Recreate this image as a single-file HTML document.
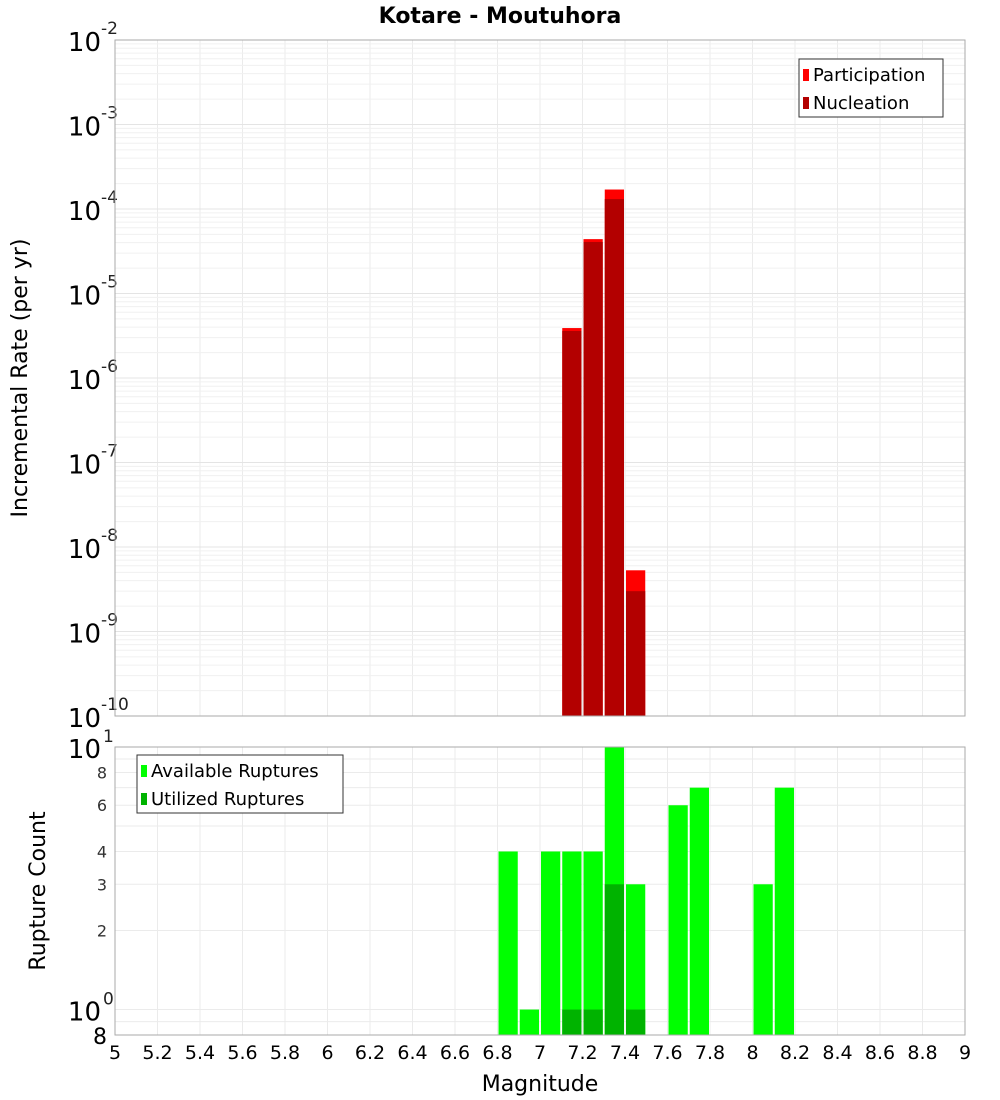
<!DOCTYPE html>
<html><head><meta charset="utf-8"><style>
body{margin:0;background:#fff;}
svg{display:block;font-family:"DejaVu Sans","Liberation Sans",sans-serif;}
</style></head><body>
<svg id="chart" width="1000" height="1100">
<text x="500" y="23" text-anchor="middle" font-size="22" font-weight="bold">Kotare - Moutuhora</text>
<g id="topPlot"></g>
<g id="botPlot"></g>
<text transform="translate(27,378) rotate(-90)" text-anchor="middle" font-size="22">Incremental Rate (per yr)</text>
<text transform="translate(45,891) rotate(-90)" text-anchor="middle" font-size="22">Rupture Count</text>
<text x="540" y="1091" text-anchor="middle" font-size="22">Magnitude</text>
</svg>
<script>
const binStarts=[7.1,7.2,7.3,7.4];
const participation=[3.9e-6,4.4e-5,1.7e-4,5.3e-9];
const nucleation=[3.6e-6,4.07e-5,1.31e-4,3.0e-9];
const countBins=[6.8,6.9,7.0,7.1,7.2,7.3,7.4,7.6,7.7,8.0,8.1];
const available=[4,1,4,4,4,10,3,6,7,3,7];
const utilized=[0,0,0,1,1,3,1,0,0,0,0];
const xTicks=[5,5.2,5.4,5.6,5.8,6,6.2,6.4,6.6,6.8,7,7.2,7.4,7.6,7.8,8,8.2,8.4,8.6,8.8,9];
const countTicks=[2,3,4,6,8];

const NS='http://www.w3.org/2000/svg';
const L=115,R=965,T1=40,B1=716,T2=747,B2=1035;
const xs=m=>L+(m-5)/4*(R-L);
const y1=v=>B1-(Math.log10(v)+10)/8*(B1-T1);
const lo=Math.log10(0.8);
const y2=v=>B2-(Math.log10(v)-lo)/(1-lo)*(B2-T2);
function mk(p,tag,a,txt){const e=document.createElementNS(NS,tag);for(const k in a)e.setAttribute(k,a[k]);if(txt!==undefined)e.textContent=txt;p.appendChild(e);return e;}
const topG=document.getElementById('topPlot'),botG=document.getElementById('botPlot');
mk(topG,'rect',{x:L,y:T1,width:R-L,height:B1-T1,fill:'#fff'});
mk(botG,'rect',{x:L,y:T2,width:R-L,height:B2-T2,fill:'#fff'});
for(const t of xTicks){const x=xs(t);
 let g=mk(topG,'line',{x1:x,x2:x,y1:T1,y2:B1,stroke:'#ebebeb'});
 
 
 g=mk(botG,'line',{x1:x,x2:x,y1:T2,y2:B2,stroke:'#ebebeb'});
 
 
 const tl=mk(botG,'text',{x:x,y:B2+24,'text-anchor':'middle','font-size':19},String(t));
 
 }
for(let e=-10;e<-2;e++)for(let k=1;k<10;k++){const y=y1(k*Math.pow(10,e));
 const g=mk(topG,'line',{x1:L,x2:R,y1:y,y2:y,stroke:k==1?'#e4e4e4':'#f0f0f0'});
 
 }
for(let e=-10;e<=-2;e++){const y=y1(Math.pow(10,e));
 const t=mk(topG,'text',{x:101,y:y+11,'text-anchor':'end','font-size':26},'10');
 
 
 const ex=mk(topG,'text',{x:101,y:y-6,'font-size':17,fill:'#222'},String(e));
 
 }
for(const v of [0.9,1,2,3,4,5,6,7,8,9,10]){const y=y2(v);
 const g=mk(botG,'line',{x1:L,x2:R,y1:y,y2:y,stroke:'#ebebeb'});
 
 }
for(const v of countTicks){const t=mk(botG,'text',{x:107,y:y2(v)+6,'text-anchor':'end','font-size':16,fill:'#333'},String(v));
 
 }
[[1,'0'],[10,'1']].forEach(([v,e])=>{const y=y2(v);
 const t=mk(botG,'text',{x:101,y:y+11,'text-anchor':'end','font-size':26},'10');
 
 
 const ex=mk(botG,'text',{x:103,y:y-5,'font-size':17,fill:'#222'},e);
 
 });
const t8=mk(botG,'text',{x:107,y:B2+9,'text-anchor':'end','font-size':22},'8');


binStarts.forEach((b,i)=>{const x=xs(b)+1,w=xs(b+0.1)-xs(b)-2;
 let r=mk(topG,'rect',{x:x,y:y1(participation[i]),width:w,height:B1-y1(participation[i]),fill:'#ff0000'});
 
 
 r=mk(topG,'rect',{x:x,y:y1(nucleation[i]),width:w,height:B1-y1(nucleation[i]),fill:'#b30000'});
 
 });
countBins.forEach((b,i)=>{const x=xs(b)+1,w=xs(b+0.1)-xs(b)-2;
 let r=mk(botG,'rect',{x:x,y:y2(available[i]),width:w,height:B2-y2(available[i]),fill:'#00ff00'});
 
 
 if(utilized[i]>0){r=mk(botG,'rect',{x:x,y:y2(utilized[i]),width:w,height:B2-y2(utilized[i]),fill:'#00b300'});
 
 }});
mk(topG,'rect',{x:L,y:T1,width:R-L,height:B1-T1,fill:'none',stroke:'#aaa'});
mk(botG,'rect',{x:L,y:T2,width:R-L,height:B2-T2,fill:'none',stroke:'#aaa'});
function legend(p,x,y,w,items){const g=mk(p,'g',{});
 
 
 mk(g,'rect',{x:x,y:y,width:w,height:58,fill:'#fff',stroke:'#333'});
 items.forEach(([c,t],i)=>{const e=mk(g,'g',{});
  
  
  mk(e,'rect',{x:x+4,y:y+10+i*28,width:6,height:12,fill:c});mk(e,'text',{x:x+14,y:y+22+i*28,'font-size':18},t);});}
legend(topG,799,59,144,[['#ff0000','Participation'],['#b30000','Nucleation']]);
legend(botG,137,755,206,[['#00ff00','Available Ruptures'],['#00b300','Utilized Ruptures']]);
</script>
</body></html>
